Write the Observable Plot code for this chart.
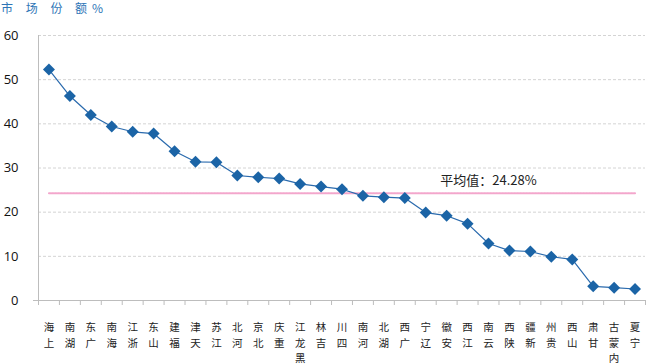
<!DOCTYPE html>
<html>
<head>
<meta charset="utf-8">
<script src="https://cdn.jsdelivr.net/npm/d3@7"></script>
<script src="https://cdn.jsdelivr.net/npm/@observablehq/plot@0.6"></script>
<style>
  html, body { margin: 0; padding: 0; background: #fff; }
  #wrap { width: 649px; height: 364px; overflow: hidden; }
  #title { height: 20px; line-height: 16px; font-size: 12px; color: #2e75b6; letter-spacing: 5px; padding-left: 1px; font-family: "Noto Sans CJK SC", sans-serif; white-space: pre; }
</style>
</head>
<body>
<div id="wrap">
  <div id="title">市 场 份 额%</div>
  <div id="chart"></div>
</div>
<script>
const categories = ["上海","湖南","广东","海南","浙江","山东","福建","天津","江苏","河北","北京","重庆","黑龙江","吉林","四川","河南","湖北","广西","辽宁","安徽","江西","云南","陕西","新疆","贵州","山西","甘肃","内蒙古","宁夏"];
const shares = [52.3,46.3,42.0,39.4,38.2,37.8,33.8,31.4,31.3,28.3,27.9,27.6,26.4,25.8,25.2,23.7,23.4,23.2,19.9,19.2,17.4,12.9,11.3,11.1,9.9,9.3,3.2,2.9,2.6];
const meanShare = 24.28;
const meanLabel = "平均值：24.28%";
const yTicks = [0,10,20,30,40,50,60];

const data = categories.map((c, i) => ({region: c, share: shares[i]}));

const W = 649, mL = 38, mR = 4;
const step = (W - mL - mR) / categories.length;

const chart = Plot.plot({
  width: W,
  height: 344,
  marginTop: 15,
  marginBottom: 64,
  marginLeft: mL,
  marginRight: mR,
  x: {type: "band", domain: categories, padding: 0, round: false},
  y: {domain: [0, 60]},
  style: {fontFamily: "'Noto Sans CJK SC', sans-serif", background: "#fff", color: "#222"},
  marks: [
    Plot.ruleY(yTicks.filter(d => d > 0), {stroke: "#d4d4d4", strokeDasharray: "3,2"}),
    Plot.frame({anchor: "left", stroke: "#bdbdbd"}),
    Plot.ruleY([0], {stroke: "#bdbdbd", insetLeft: -5}),
    Plot.ruleX(categories, {x: d => d, y1: () => 0, y2: () => 0, insetBottom: -5, dx: -step / 2, stroke: "#bdbdbd"}),
    Plot.ruleX([categories[categories.length - 1]], {x: d => d, y1: () => 0, y2: () => 0, insetBottom: -5, dx: step / 2, stroke: "#bdbdbd"}),
    Plot.axisY({ticks: yTicks, tickSize: 0, tickPadding: 20, fontSize: 13, fontFamily: "'Open Sans', sans-serif", fill: "#111", label: null}),
    Plot.axisX({tickSize: 0, tickPadding: 20, tickFormat: d => [...d].reverse().join("\n"), fontSize: 10.5, lineHeight: 1.46, fill: "#222", label: null}),
    Plot.lineY(categories, {x: d => d, y: () => meanShare, stroke: "#f3a6cc", strokeWidth: 2, strokeDasharray: "1.5,1.5"}),
    Plot.text([meanLabel], {x: () => "云南", y: () => meanShare, dy: -12, text: d => d, fontSize: 13, fill: "#222", textAnchor: "middle", style: "letter-spacing:2px"}),
    Plot.line(data, {x: "region", y: "share", stroke: "#2a6aad", strokeWidth: 1.2}),
    Plot.dot(data, {x: "region", y: "share", symbol: "diamond2", r: 5.4, fill: "#1b64a6", stroke: "none"})
  ]
});
document.getElementById("chart").appendChild(chart);
</script>
</body>
</html>
